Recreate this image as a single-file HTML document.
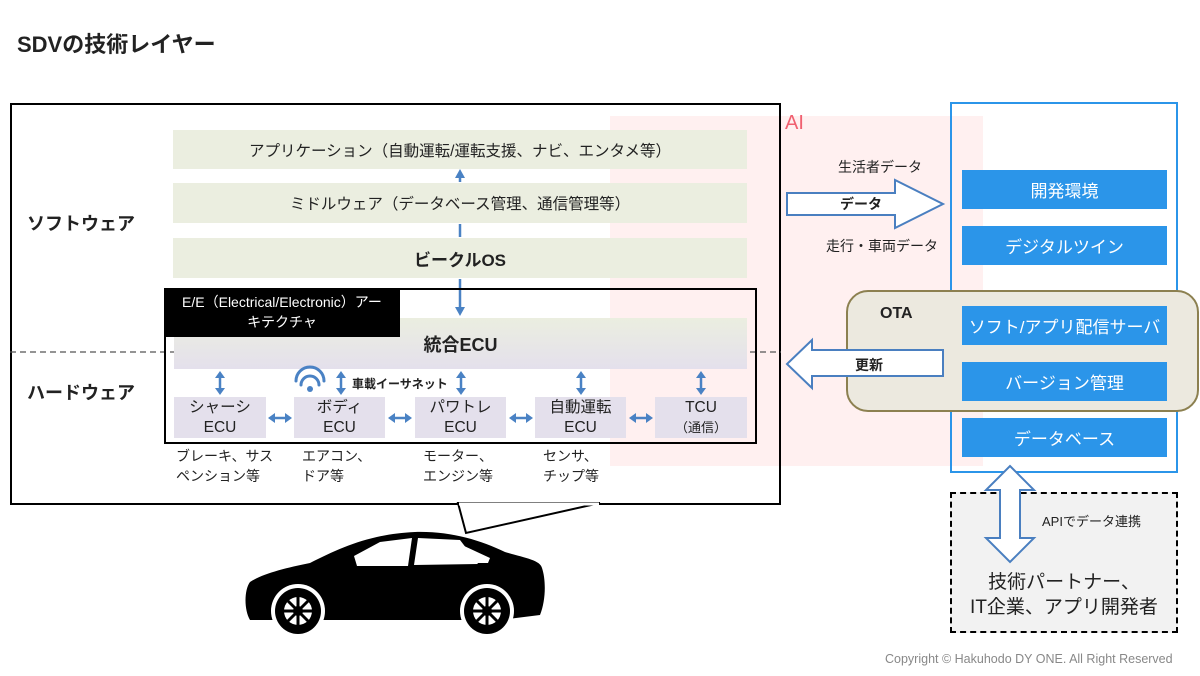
<!DOCTYPE html>
<html><head><meta charset="utf-8"><style>
*{margin:0;padding:0;box-sizing:border-box}
body{width:1200px;height:676px;position:relative;background:#fff;font-family:"Liberation Sans","Noto Sans CJK JP",sans-serif;color:#222;overflow:hidden}
.a{position:absolute}
.c{display:flex;align-items:center;justify-content:center;text-align:center}
.lay{background:#ebeee0;font-size:15.5px}
.ecu{background:#e4e0ec;font-size:15.5px;line-height:20px;flex-direction:column}
.bl{background:#2b95e9;color:#fff;font-size:17px;left:962px;width:205px;height:39px}
.t{font-size:14px;line-height:20px}
</style></head><body>
<div class="a" style="left:17px;top:27px;font-size:22px;font-weight:bold">SDVの技術レイヤー</div>

<div class="a" style="left:610px;top:116px;width:373px;height:350px;background:#fff0f0"></div>
<div class="a" style="left:10px;top:103px;width:771px;height:402px;border:2px solid #000"></div>
<div class="a" style="left:785px;top:112px;font-size:20px;color:#f06070">AI</div>

<div class="a" style="left:27px;top:210px;font-size:18px;font-weight:bold">ソフトウェア</div>
<div class="a" style="left:27px;top:379px;font-size:18px;font-weight:bold">ハードウェア</div>

<div class="a c lay" style="left:173px;top:130px;width:574px;height:39px">アプリケーション（自動運転/運転支援、ナビ、エンタメ等）</div>
<div class="a c lay" style="left:173px;top:183px;width:574px;height:40px">ミドルウェア（データベース管理、通信管理等）</div>
<div class="a c lay" style="left:173px;top:238px;width:574px;height:40px;font-weight:bold;font-size:17px">ビークルOS</div>

<svg class="a" style="left:0;top:0" width="1200" height="676">
<defs>
<g id="v"><line x1="0" y1="-7" x2="0" y2="7"/><polygon stroke="none" points="-5,-5 5,-5 0,-12"/><polygon stroke="none" points="-5,5 5,5 0,12"/></g>
<g id="h"><line x1="-6" y1="0" x2="6" y2="0"/><polygon stroke="none" points="-5,-5 -5,5 -12,0"/><polygon stroke="none" points="5,-5 5,5 12,0"/></g>
</defs>
<line x1="10" y1="352" x2="781" y2="352" stroke="#555" stroke-dasharray="6,4" stroke-width="1.2"/>
<g stroke="#4a82c4" stroke-width="2.5" fill="#4a82c4">
<line x1="460" y1="176" x2="460" y2="182"/><polygon points="455,178 465,178 460,169" stroke="none"/>
<line x1="460" y1="224" x2="460" y2="237"/>
<line x1="460" y1="279" x2="460" y2="310"/><polygon points="455,307 465,307 460,316" stroke="none"/>
</g>
</svg>

<div class="a" style="left:164px;top:288px;width:593px;height:156px;border:2px solid #000"></div>
<div class="a c" style="left:174px;top:318px;width:573px;height:51px;background:linear-gradient(#ebeee0,#e4e0ec);font-size:18px;font-weight:bold">統合ECU</div>
<div class="a" style="left:164px;top:288px;width:236px;height:49px;background:#000;color:#fff;font-size:14px;line-height:20px;padding:4px 0 0 0;text-align:center">E/E（Electrical/Electronic）アー<br>キテクチャ</div>

<div class="a c ecu" style="left:174px;top:397px;width:92px;height:41px"><span>シャーシ</span><span>ECU</span></div>
<div class="a c ecu" style="left:294px;top:397px;width:91px;height:41px"><span>ボディ</span><span>ECU</span></div>
<div class="a c ecu" style="left:415px;top:397px;width:91px;height:41px"><span>パワトレ</span><span>ECU</span></div>
<div class="a c ecu" style="left:535px;top:397px;width:91px;height:41px"><span>自動運転</span><span>ECU</span></div>
<div class="a c ecu" style="left:655px;top:397px;width:92px;height:41px"><span>TCU</span><span style="font-size:13px">（通信）</span></div>
<div class="a" style="left:352px;top:375px;font-size:12px;font-weight:bold">車載イーサネット</div>

<svg class="a" style="left:0;top:0" width="1200" height="676">
<g fill="#4a82c4" stroke="#4a82c4" stroke-width="2.5">
<use href="#v" x="220" y="383"/><use href="#v" x="341" y="383"/><use href="#v" x="461" y="383"/><use href="#v" x="581" y="383"/><use href="#v" x="701" y="383"/>
<use href="#h" x="280" y="418"/><use href="#h" x="400" y="418"/><use href="#h" x="521" y="418"/><use href="#h" x="641" y="418"/>
</g>
<g fill="none" stroke="#4a82c4" stroke-width="3" stroke-linecap="round">
<path d="M296,381 A14,14 0 0 1 324,381"/><path d="M301,385 A9,9 0 0 1 319,385"/>
</g>
<circle cx="310" cy="389" r="3" fill="#4a82c4"/>

<polygon points="458,503 466,533 600,503" fill="#fff" stroke="#000" stroke-width="2"/>
<line x1="459" y1="504" x2="599" y2="504" stroke="#fff" stroke-width="3"/>

<path d="M250,620 C244,610 244,590 250,582 C262,574 285,568 310,563 C340,548 370,534 415,532 C450,531 480,540 505,552 C525,558 540,560 542,568 C546,580 546,600 540,615 L500,620 Z" fill="#000"/>
<polygon points="354,556 380,542 412,538 408,566 357,566" fill="#fff"/>
<polygon points="418,538 460,540 470,553 478,564 414,565" fill="#fff"/>
<polygon points="462,545 490,558 488,563 477,563" fill="#fff"/>
<circle cx="298" cy="611" r="27" fill="#fff"/><circle cx="298" cy="611" r="23" fill="#000"/><circle cx="298" cy="611" r="14" fill="#fff"/><circle cx="298" cy="611" r="5" fill="#000"/>
<circle cx="487" cy="611" r="27" fill="#fff"/><circle cx="487" cy="611" r="23" fill="#000"/><circle cx="487" cy="611" r="14" fill="#fff"/><circle cx="487" cy="611" r="5" fill="#000"/>
<g stroke="#000" stroke-width="3"><line x1="284" y1="611" x2="312" y2="611"/><line x1="298" y1="597" x2="298" y2="625"/><line x1="288" y1="601" x2="308" y2="621"/><line x1="308" y1="601" x2="288" y2="621"/>
<line x1="473" y1="611" x2="501" y2="611"/><line x1="487" y1="597" x2="487" y2="625"/><line x1="477" y1="601" x2="497" y2="621"/><line x1="497" y1="601" x2="477" y2="621"/></g>

<polygon points="787,193 895,193 895,180 943,204 895,228 895,215 787,215" fill="#fff" stroke="#4a7fc0" stroke-width="2"/>
</svg>

<div class="t a" style="left:176px;top:446px">ブレーキ、サス<br>ペンション等</div>
<div class="t a" style="left:302px;top:446px">エアコン、<br>ドア等</div>
<div class="t a" style="left:423px;top:446px">モーター、<br>エンジン等</div>
<div class="t a" style="left:543px;top:446px">センサ、<br>チップ等</div>

<div class="a" style="left:838px;top:157px;font-size:14px">生活者データ</div>
<div class="a" style="left:826px;top:236px;font-size:14px">走行・車両データ</div>
<div class="a" style="left:840px;top:194px;font-size:14px;font-weight:bold">データ</div>

<div class="a" style="left:950px;top:102px;width:228px;height:371px;border:2px solid #2b95e9"></div>
<div class="a c bl" style="top:170px">開発環境</div>
<div class="a c bl" style="top:226px">デジタルツイン</div>
<div class="a" style="left:846px;top:290px;width:353px;height:122px;background:#ece9df;border:2px solid #8c8050;border-radius:22px"></div>
<div class="a" style="left:880px;top:305px;font-size:16px;font-weight:bold">OTA</div>
<div class="a c bl" style="top:306px">ソフト/アプリ配信サーバ</div>
<div class="a c bl" style="top:362px">バージョン管理</div>
<div class="a c bl" style="top:418px">データベース</div>

<svg class="a" style="left:0;top:0" width="1200" height="676">
<polygon points="943,350 812,350 812,340 787,364 812,388 812,376 943,376" fill="#fff" stroke="#4a7fc0" stroke-width="2"/>
</svg>
<div class="a" style="left:855px;top:355px;font-size:14px;font-weight:bold">更新</div>

<div class="a" style="left:950px;top:492px;width:228px;height:141px;background:#f2f2f2;border:2px dashed #000"></div>
<svg class="a" style="left:0;top:0" width="1200" height="676">
<polygon points="1010,466 1034,490 1020,490 1020,538 1034,538 1010,562 986,538 1000,538 1000,490 986,490" fill="#fff" stroke="#4a7fc0" stroke-width="2"/>
</svg>
<div class="a" style="left:1042px;top:511px;font-size:13px">APIでデータ連携</div>
<div class="a" style="left:952px;top:570px;width:224px;text-align:center;font-size:19px;line-height:25px">技術パートナー、<br>IT企業、アプリ開発者</div>

<div class="a" style="left:885px;top:652px;font-size:12.5px;color:#888">Copyright © Hakuhodo DY ONE. All Right Reserved</div>
</body></html>
